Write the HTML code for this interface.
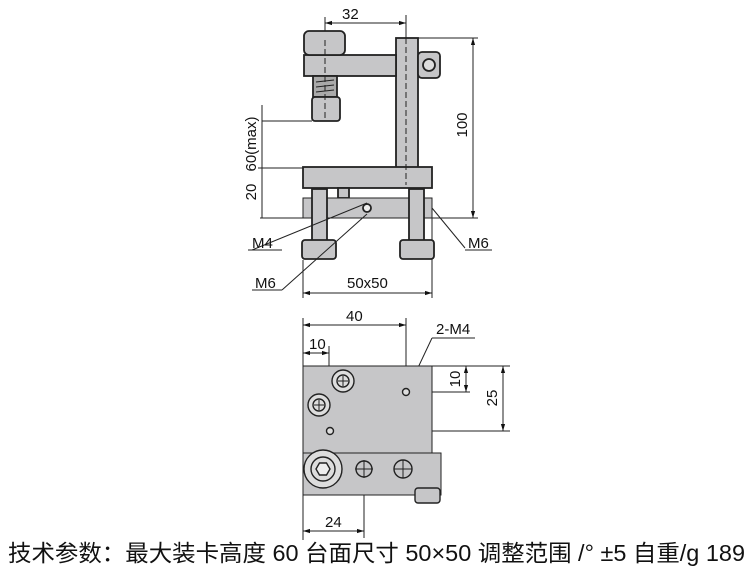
<!DOCTYPE html>
<html><head><meta charset="utf-8"><style>
html,body{margin:0;padding:0;background:#fff;width:750px;height:567px;overflow:hidden}
svg{display:block}
text{font-family:"Liberation Sans","Noto Sans CJK SC",sans-serif;fill:#111}
</style></head><body>
<svg width="750" height="567" viewBox="0 0 750 567" xmlns="http://www.w3.org/2000/svg">
<defs>
<marker id="a" viewBox="0 0 10 10" refX="10" refY="5" markerWidth="7" markerHeight="7" orient="auto-start-reverse"><path d="M0,2L10,5L0,8z" fill="#111"/></marker>
</defs>
<g stroke="#222" stroke-width="1" fill="none">
<line x1="325" y1="23" x2="406" y2="23" marker-start="url(#a)" marker-end="url(#a)"/>
<line x1="325" y1="17" x2="325" y2="40"/><line x1="406" y1="15" x2="406" y2="38"/>
<line x1="418" y1="38" x2="478" y2="38"/>
<line x1="473" y1="38" x2="473" y2="218" marker-start="url(#a)" marker-end="url(#a)"/>
<line x1="260" y1="218" x2="478" y2="218"/>
<line x1="262" y1="121" x2="312" y2="121"/>
<line x1="262" y1="105" x2="262" y2="218"/>
<line x1="258" y1="168" x2="304" y2="168"/>
<line x1="303" y1="260" x2="303" y2="298"/><line x1="432" y1="218" x2="432" y2="298"/>
<line x1="303" y1="293" x2="432" y2="293" marker-start="url(#a)" marker-end="url(#a)"/>
</g>
<g stroke="#222" stroke-width="1.8" fill="#c6c6c8">
<rect x="396" y="38" width="22" height="130"/>
<rect x="304" y="55" width="92" height="21"/>
<rect x="304" y="31" width="41" height="24" rx="5"/>
<rect x="313" y="76" width="24" height="21" fill="#aaa"/>
<rect x="312" y="97" width="28" height="24" rx="3"/>
<rect x="418" y="52" width="22" height="26" rx="4"/>
<circle cx="429" cy="65" r="6" fill="#ddd"/>
<rect x="303" y="167" width="129" height="21"/>
<rect x="338" y="188" width="11" height="10"/>
<rect x="303" y="198" width="129" height="20" stroke-width="1"/>
<rect x="312" y="189" width="15" height="52"/>
<rect x="302" y="240" width="34" height="19" rx="3"/>
<rect x="409" y="189" width="15" height="52"/>
<rect x="400" y="240" width="34" height="19" rx="3"/>
<circle cx="367" cy="208" r="4" fill="#eee"/>
</g>
<g stroke="#222" stroke-width="1" fill="none">
<line x1="316" y1="82" x2="334" y2="80"/><line x1="316" y1="87" x2="334" y2="85"/><line x1="316" y1="92" x2="334" y2="90"/>
<line x1="325" y1="40" x2="325" y2="120" stroke-dasharray="6,3"/>
<line x1="406" y1="38" x2="406" y2="185" stroke-dasharray="6,3"/>
<line x1="367" y1="203" x2="252" y2="250"/><line x1="367" y1="214" x2="282" y2="290"/>
<line x1="432" y1="208" x2="465" y2="248"/>
<line x1="248" y1="250" x2="282" y2="250"/><line x1="252" y1="290" x2="282" y2="290"/>
<line x1="465" y1="250" x2="492" y2="250"/>
</g>
<text x="342" y="19" font-size="15">32</text>
<text x="467" y="125" font-size="15" transform="rotate(-90 467 125)" text-anchor="middle">100</text>
<text x="256" y="144" font-size="15" transform="rotate(-90 256 144)" text-anchor="middle">60(max)</text>
<text x="256" y="192" font-size="15" transform="rotate(-90 256 192)" text-anchor="middle">20</text>
<text x="252" y="248" font-size="15">M4</text>
<text x="255" y="288" font-size="15">M6</text>
<text x="468" y="248" font-size="15">M6</text>
<text x="347" y="288" font-size="15">50x50</text>
<g stroke="#222" stroke-width="1" fill="none">
<line x1="303" y1="318" x2="303" y2="540"/>
<line x1="406" y1="318" x2="406" y2="392"/>
<line x1="329" y1="346" x2="329" y2="431"/>
<line x1="303" y1="325" x2="406" y2="325" marker-start="url(#a)" marker-end="url(#a)"/>
<line x1="303" y1="353" x2="329" y2="353" marker-start="url(#a)" marker-end="url(#a)"/>
<line x1="364" y1="468" x2="364" y2="538"/>
<line x1="303" y1="531" x2="364" y2="531" marker-start="url(#a)" marker-end="url(#a)"/>
<line x1="432" y1="366" x2="510" y2="366"/><line x1="406" y1="392" x2="470" y2="392"/><line x1="330" y1="431" x2="510" y2="431"/>
<line x1="466" y1="366" x2="466" y2="392" marker-start="url(#a)" marker-end="url(#a)"/>
<line x1="503" y1="366" x2="503" y2="431" marker-start="url(#a)" marker-end="url(#a)"/>
<line x1="398" y1="410" x2="432" y2="338"/><line x1="432" y1="338" x2="475" y2="338"/>
</g>
<g stroke="#222" stroke-width="1.4" fill="#c6c6c8">
<rect x="303" y="366" width="129" height="87" stroke-width="1"/>
<rect x="303" y="453" width="138" height="42" stroke-width="1"/>
<rect x="415" y="488" width="25" height="15" rx="3"/>
</g>
<g stroke="#222" stroke-width="1.4" fill="#ddd">
<circle cx="343" cy="381" r="11"/><circle cx="343" cy="381" r="6"/>
<circle cx="319" cy="405" r="11"/><circle cx="319" cy="405" r="6"/>
<circle cx="406" cy="392" r="3.5"/><circle cx="330" cy="431" r="3.5"/>
<circle cx="323" cy="469" r="19"/><circle cx="323" cy="469" r="12"/>
<polygon points="316,469 319.5,463 326.5,463 330,469 326.5,475 319.5,475" fill="#eee"/>
<circle cx="364" cy="469" r="8" fill="none"/><circle cx="403" cy="469" r="9" fill="none"/>
</g>
<g stroke="#222" stroke-width="1"><line x1="355" y1="469" x2="373" y2="469"/><line x1="364" y1="460" x2="364" y2="478"/><line x1="394" y1="469" x2="412" y2="469"/><line x1="403" y1="460" x2="403" y2="478"/>
<line x1="343" y1="376" x2="343" y2="386"/><line x1="338" y1="381" x2="348" y2="381"/><line x1="319" y1="400" x2="319" y2="410"/><line x1="314" y1="405" x2="324" y2="405"/></g>
<text x="346" y="321" font-size="15">40</text>
<text x="309" y="349" font-size="15">10</text>
<text x="436" y="334" font-size="15">2-M4</text>
<text x="460" y="379" font-size="15" transform="rotate(-90 460 379)" text-anchor="middle">10</text>
<text x="497" y="398" font-size="15" transform="rotate(-90 497 398)" text-anchor="middle">25</text>
<text x="325" y="527" font-size="15">24</text>
<text x="8" y="561" font-size="23" textLength="737" lengthAdjust="spacingAndGlyphs">技术参数：最大装卡高度 60  台面尺寸 50×50   调整范围 /° ±5   自重/g 189</text>
</svg>
</body></html>
